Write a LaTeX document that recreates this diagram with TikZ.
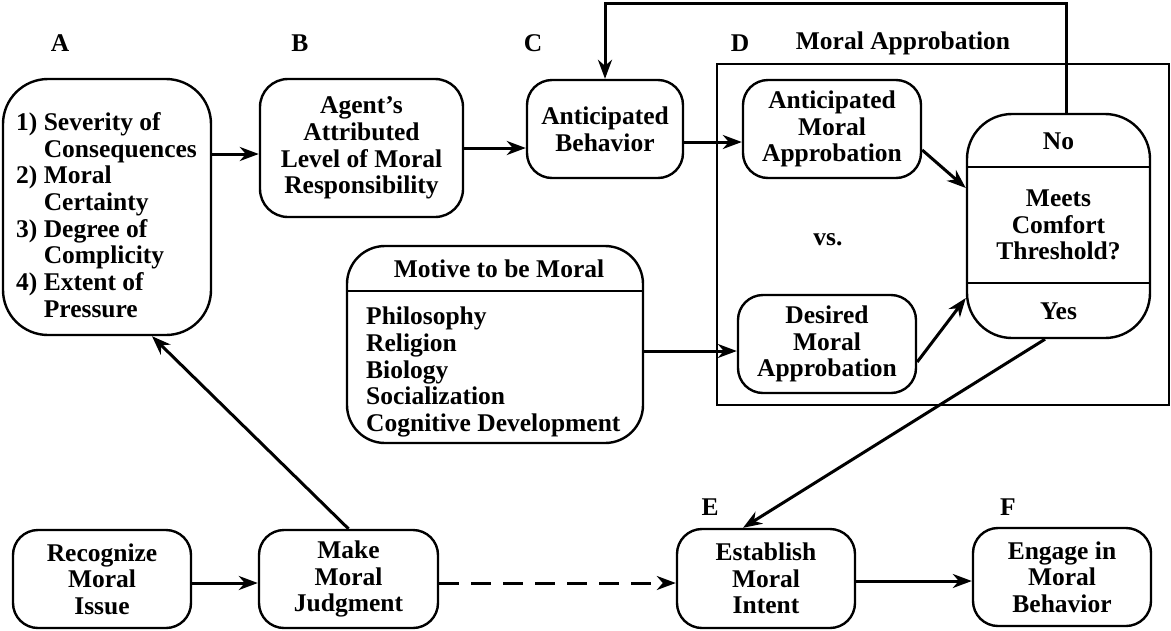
\documentclass[tikz,border=0pt]{standalone}
\usepackage{fontspec}
\setmainfont{Liberation Serif}
\usetikzlibrary{arrows.meta}
\begin{document}
\begin{tikzpicture}[x=1pt,y=-1pt,
  txt/.style={font=\fontsize{25.5}{26.7}\selectfont\bfseries, inner sep=0pt, align=center},
  box/.style={draw, line width=2.4pt, rounded corners=25pt, inner sep=0pt, align=center,
    font=\fontsize{25.5}{26.7}\selectfont\bfseries, minimum width=178pt, minimum height=98pt},
  arr/.style={line width=3pt, -{Stealth[length=19pt,width=14pt,inset=6pt]}},
  sep/.style={line width=2.4pt}
]
\useasboundingbox (0,0) rectangle (1171,630);

% letters
\node[txt] (lA) at (60,43) {A};
\node[txt] (lB) at (300,43) {B};
\node[txt] (lC) at (533,43) {C};
\node[txt] (lD) at (740,43) {D};
\node[txt] (lMA) at (903,43) {Moral Approbation};
\node[txt] (lE) at (710,507) {E};
\node[txt] (lF) at (1008,507) {F};

% frame D
\draw[line width=2.4pt] (717,64) rectangle (1169,405);
\node[txt] (vs) at (828,240) {vs.};

% boxes
\node[box, rounded corners=45pt, minimum width=208pt, minimum height=256pt] (A) at (107,207) {};
\node[txt, align=left, anchor=west] (At) at (16,215) {1) Severity of\\\hphantom{1)\ }Consequences\\2) Moral\\\hphantom{1)\ }Certainty\\3) Degree of\\\hphantom{1)\ }Complicity\\4) Extent of\\\hphantom{1)\ }Pressure};

\node[box, rounded corners=28pt, minimum width=203pt, minimum height=138pt] (B) at (361.5,148) {Agent’s\\Attributed\\Level of Moral\\Responsibility};
\node[box, minimum width=156pt] (C) at (605,129) {Anticipated\\Behavior};
\node[box] (AMA) at (832,129) {Anticipated\\Moral\\Approbation};
\node[box] (DMA) at (827,344) {Desired\\Moral\\Approbation};

\node[box, rounded corners=45pt, minimum width=183pt, minimum height=224pt] (M) at (1058.5,226) {};
\draw[sep] ([yshift=59pt]M.west) -- ([yshift=59pt]M.east);
\draw[sep] ([yshift=-57pt]M.west) -- ([yshift=-57pt]M.east);
\node[txt] (No) at (1058.5,141) {No};
\node[txt] (Mt) at (1058.5,225) {Meets\\Comfort\\Threshold?};
\node[txt] (Yes) at (1058.5,311) {Yes};

\node[box, rounded corners=38pt, minimum width=296pt, minimum height=197pt] (Mot) at (495,344.5) {};
\draw[sep] ([yshift=53.5pt]Mot.west) -- ([yshift=53.5pt]Mot.east);
\node[txt] (Mott) at (499,269) {Motive to be Moral};
\node[txt, align=left, anchor=west] (Moti) at (366,372) {Philosophy\\Religion\\Biology\\Socialization\\Cognitive Development};

\node[box] (Rec) at (102,579) {Recognize\\Moral\\Issue};
\node[box, minimum width=179pt] (Make) at (348.5,579) {Make\\Moral\\Judgment};
\node[box, minimum height=99pt] (E) at (766,578.5) {Establish\\Moral\\Intent};
\node[box] (F) at (1062,577) {Engage in\\Moral\\Behavior};

% connectors
\draw[arr] ([yshift=53pt]A.east) -- ([yshift=-6pt]B.west);
\draw[arr] (B.east) -- (B.east -| C.west);
\coordinate (c1) at ([yshift=-13pt]C.east);
\draw[arr] (c1) -- (c1 -| AMA.west);
\draw[arr] ([yshift=-21pt]AMA.east) -- ([yshift=38pt]M.west);
\draw[arr] ([yshift=-18pt]DMA.east) -- ([yshift=-72pt]M.west);
\coordinate (m1) at ([yshift=-6.5pt]Mot.east);
\draw[arr] (m1) -- (m1 -| DMA.west);
\draw[arr] ([xshift=7.5pt]M.north) -- ++(0,-109) -| (C.north);
\draw[arr] ([xshift=-13.5pt]M.south) -- ([xshift=-23pt]E.north);
\draw[arr] (Make.north) -- ([xshift=45pt]A.south);
\coordinate (r1) at ([yshift=-4pt]Rec.east);
\draw[arr] (r1) -- (r1 -| Make.west);
\coordinate (k1) at ([yshift=-4pt]Make.east);
\draw[arr, dash pattern=on 20pt off 12pt] (k1) -- (k1 -| E.west);
\coordinate (e1) at ([yshift=-2.5pt]E.east);
\draw[arr] (e1) -- (e1 -| F.west);
\end{tikzpicture}
\end{document}
